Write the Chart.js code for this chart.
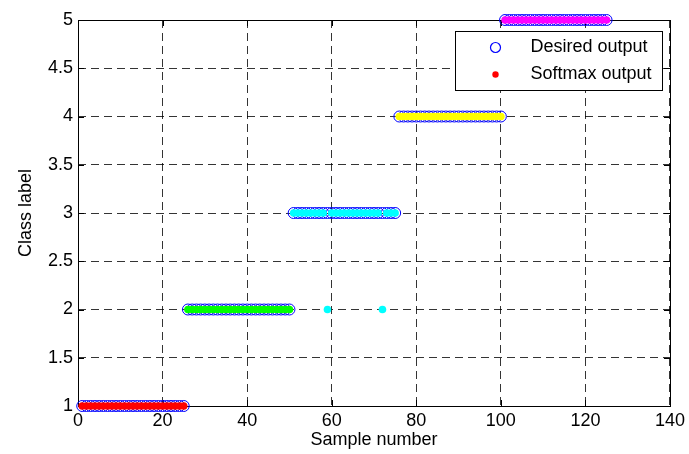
<!DOCTYPE html>
<html>
<head>
<meta charset="utf-8">
<script src="https://cdn.jsdelivr.net/npm/chart.js@4/dist/chart.umd.min.js"></script>
<style>
  html,body{margin:0;padding:0;background:#fff;}
  canvas{display:block;}
</style>
</head>
<body>
<canvas id="chart" width="689" height="454"></canvas>
<script>
// Daten
const xTicks = [0, 20, 40, 60, 80, 100, 120, 140];
const yTicks = [1, 1.5, 2, 2.5, 3, 3.5, 4, 4.5, 5];
const classColors = ['#ff0000', '#00ff00', '#00ffff', '#ffff00', '#ff00ff'];
const seriesNames = ['Desired output', 'Softmax output'];

// gewuenschte Klasse je Sample (Sample 1..125)
const desiredOutput = [
  1,1,1,1,1,1,1,1,1,1,1,1,1,1,1,1,1,1,1,1,1,1,1,1,1,
  2,2,2,2,2,2,2,2,2,2,2,2,2,2,2,2,2,2,2,2,2,2,2,2,2,
  3,3,3,3,3,3,3,3,3,3,3,3,3,3,3,3,3,3,3,3,3,3,3,3,3,
  4,4,4,4,4,4,4,4,4,4,4,4,4,4,4,4,4,4,4,4,4,4,4,4,4,
  5,5,5,5,5,5,5,5,5,5,5,5,5,5,5,5,5,5,5,5,5,5,5,5,5
];
// Softmax-Ausgabe (Sample 59 und 72 falsch -> 2)
const softmaxOutput = [
  1,1,1,1,1,1,1,1,1,1,1,1,1,1,1,1,1,1,1,1,1,1,1,1,1,
  2,2,2,2,2,2,2,2,2,2,2,2,2,2,2,2,2,2,2,2,2,2,2,2,2,
  3,3,3,3,3,3,3,3,2,3,3,3,3,3,3,3,3,3,3,3,3,2,3,3,3,
  4,4,4,4,4,4,4,4,4,4,4,4,4,4,4,4,4,4,4,4,4,4,4,4,4,
  5,5,5,5,5,5,5,5,5,5,5,5,5,5,5,5,5,5,5,5,5,5,5,5,5
];

const FONT = "'Liberation Sans', Arial, sans-serif";
const desiredPts = desiredOutput.map((v,i)=>({x:i+1, y:v}));
const softmaxPts = softmaxOutput.map((v,i)=>({x:i+1, y:v}));
const softmaxColors = desiredOutput.map(c=>classColors[c-1]);

// weisser Hintergrund
const bgPlugin = {
  id:'bg',
  beforeDraw(chart){
    const ctx=chart.ctx; ctx.save(); ctx.fillStyle='#fff';
    ctx.fillRect(0,0,chart.width,chart.height); ctx.restore();
  }
};

// Rahmen + Ticks nach innen
const boxPlugin = {
  id:'box',
  beforeDatasetsDraw(chart){
    const {ctx, chartArea:a, scales:{x,y}} = chart;
    ctx.save();
    ctx.strokeStyle='#000'; ctx.lineWidth=1; ctx.setLineDash([]);
    ctx.strokeRect(Math.round(a.left)+0.5, Math.round(a.top)+0.5, Math.round(a.right-a.left), Math.round(a.bottom-a.top));
    const tl=6;
    ctx.beginPath();
    for(const t of xTicks){
      const px=Math.round(x.getPixelForValue(t))+0.5;
      ctx.moveTo(px,a.bottom); ctx.lineTo(px,a.bottom-tl);
      ctx.moveTo(px,a.top); ctx.lineTo(px,a.top+tl);
    }
    for(const t of yTicks){
      const py=Math.round(y.getPixelForValue(t))+0.5;
      ctx.moveTo(a.left,py); ctx.lineTo(a.left+tl,py);
      ctx.moveTo(a.right,py); ctx.lineTo(a.right-tl,py);
    }
    ctx.stroke();
    ctx.restore();
  }
};

// Legende im Plotbereich oben rechts
const legendPlugin = {
  id:'boxLegend',
  afterDatasetsDraw(chart){
    const {ctx, chartArea:a} = chart;
    const w=207, h=59;
    const lx=Math.round(a.right-8-w)+0.5, ly=Math.round(a.top+11)+0.5;
    ctx.save();
    ctx.fillStyle='#fff'; ctx.fillRect(lx,ly,w,h);
    ctx.strokeStyle='#000'; ctx.lineWidth=1; ctx.strokeRect(lx,ly,w,h);
    const mx=lx+40;
    // Desired
    ctx.beginPath(); ctx.arc(mx, ly+16, 5, 0, Math.PI*2);
    ctx.strokeStyle='#0000ff'; ctx.lineWidth=1.2; ctx.stroke();
    // Softmax
    ctx.beginPath(); ctx.arc(mx, ly+43, 3.2, 0, Math.PI*2);
    ctx.fillStyle='#ff0000'; ctx.fill();
    ctx.fillStyle='#000'; ctx.font='18px '+FONT; ctx.textBaseline='middle'; ctx.textAlign='left';
    ctx.fillText(seriesNames[0], lx+75, ly+16);
    ctx.fillText(seriesNames[1], lx+75, ly+43);
    ctx.restore();
  }
};

const gridOpts = {color:'#000', lineWidth:0.8, drawTicks:false};

new Chart(document.getElementById('chart').getContext('2d'), {
  type:'scatter',
  data:{
    datasets:[
      {label:seriesNames[0], data:desiredPts, order:2, clip:false,
       pointStyle:'circle', pointRadius:5.5, pointBorderWidth:1,
       pointBorderColor:'#0000ff', pointBackgroundColor:'rgba(0,0,0,0)', showLine:false},
      {label:seriesNames[1], data:softmaxPts, order:1, clip:false,
       pointStyle:'circle', pointRadius:3.8, pointBorderWidth:0,
       pointBorderColor:softmaxColors, pointBackgroundColor:softmaxColors, showLine:false}
    ]
  },
  options:{
    responsive:false, animation:false,
    layout:{padding:{top:20, right:17, left:0, bottom:0}},
    plugins:{legend:{display:false}, tooltip:{enabled:false}},
    scales:{
      x:{type:'linear', min:0, max:140,
        afterBuildTicks(s){ s.ticks = xTicks.map(v=>({value:v})); },
        afterFit(s){ s.height=48; },
        grid:gridOpts, border:{display:false, dash:[8,5]},
        ticks:{color:'#000', padding:4, maxRotation:0, font:{family:FONT, size:18}, callback:v=>String(v)},
        title:{display:true, text:'Sample number', color:'#000', padding:{top:0,bottom:3}, font:{family:FONT, size:18}}
      },
      y:{type:'linear', min:1, max:5,
        afterBuildTicks(s){ s.ticks = yTicks.map(v=>({value:v})); },
        afterFit(s){ s.width=78; },
        grid:gridOpts, border:{display:false, dash:[8,5]},
        ticks:{color:'#000', padding:5, font:{family:FONT, size:18}, callback:v=>String(v)},
        title:{display:true, text:'Class label', color:'#000', padding:{top:15,bottom:0}, font:{family:FONT, size:18}}
      }
    }
  },
  plugins:[bgPlugin, boxPlugin, legendPlugin]
});
</script>
</body>
</html>
